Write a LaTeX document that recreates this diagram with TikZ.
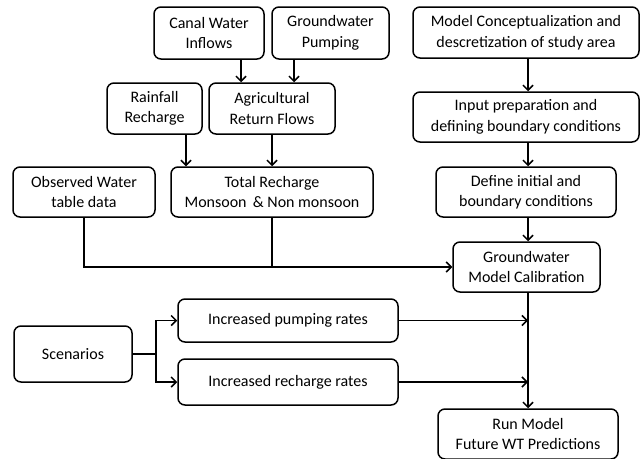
\documentclass[tikz,border=0pt]{standalone}
\usepackage{fontspec}
\setmainfont{Carlito}
\usetikzlibrary{arrows.meta,positioning}

\begin{document}
\begin{tikzpicture}[x=1pt,y=-1pt,
        box/.style={draw,rounded corners=7pt,line width=1.5pt,align=center,
            inner sep=0pt,font=\fontsize{16}{20.5}\selectfont},
        arr/.style={line width=1.5pt,-{Straight Barb[length=5pt,width=10pt,line width=1.5pt]}},
        ln/.style={line width=1.5pt}]
        \useasboundingbox (0,0) rectangle (642,458);
        % Recharge side
        \node[box,minimum width=110pt,minimum height=52pt] (canal) at (209,33) {Canal Water\\Inflows};
        \node[box,minimum width=117pt,minimum height=52pt] (pump) at (330.5,33) {Groundwater\\Pumping};
        \node[box,minimum width=95pt,minimum height=51pt] (rain) at (154.5,108.5) {Rainfall\\Recharge};
        \node[box,minimum width=126pt,minimum height=51pt] (agri) at (272,108.5) {Agricultural\\Return Flows};
        \node[box,minimum width=142pt,minimum height=50pt] (obs) at (84,192) {Observed Water\\table data};
        \node[box,minimum width=202pt,minimum height=50pt] (total) at (272,192) {Total Recharge\\Monsoon \,\& Non monsoon};
        % Model side
        \node[box,minimum width=226pt,minimum height=51pt] (concept) at (526,32.5) {Model Conceptualization and\\descretization of study area};
        \node[box,minimum width=226pt,minimum height=50pt] (input) at (526,117) {Input preparation and\\defining boundary conditions};
        \node[box,minimum width=180pt,minimum height=50pt] (define) at (526,192) {Define initial and\\boundary conditions};
        \node[box,minimum width=147pt,minimum height=50pt] (calib) at (526.5,267) {Groundwater\\Model Calibration};
        % Scenarios
        \node[box,minimum width=118pt,minimum height=56pt] (scen) at (73,354) {Scenarios};
        \node[box,minimum width=220pt,minimum height=43pt] (incpump) at (288,320.5) {Increased pumping rates};
        \node[box,minimum width=220pt,minimum height=46pt] (increch) at (288,382) {Increased recharge rates};
        \node[box,minimum width=180pt,minimum height=50pt] (run) at (528,434) {Run Model\\Future WT Predictions};
        % Helper coordinates
        \coordinate (xc) at (241,0);
        \coordinate (xp) at (294,0);
        \coordinate (xr) at (186,0);
        \coordinate (xm) at (528,0);
        \coordinate (xb) at (156,0);
        % Arrows
        \draw[arr] (xc |- canal.south) -- (xc |- agri.north);
        \draw[arr] (xp |- pump.south) -- (xp |- agri.north);
        \draw[arr] (xr |- rain.south) -- (xr |- total.north);
        \draw[arr] (agri.south) -- (total.north);
        \draw[arr] (xm |- concept.south) -- (xm |- input.north);
        \draw[arr] (xm |- input.south) -- (xm |- define.north);
        \draw[arr] (xm |- define.south) -- (xm |- calib.north);
        \draw[arr] (obs.south) |- (calib.west);
        \draw[ln] (total.south) -- (total.south |- calib.west);
        \draw[arr] (xm |- calib.south) -- (xm |- run.north);
        \draw[ln] (scen.east) -- (xb |- scen.east);
        \draw[arr] (xb |- scen.east) |- (incpump.west);
        \draw[arr] (xb |- scen.east) |- (increch.west);
        \draw[arr] (incpump.east) -- (xm |- incpump.east);
        \draw[arr] (increch.east) -- (xm |- increch.east);
    \end{tikzpicture}
\end{document}
